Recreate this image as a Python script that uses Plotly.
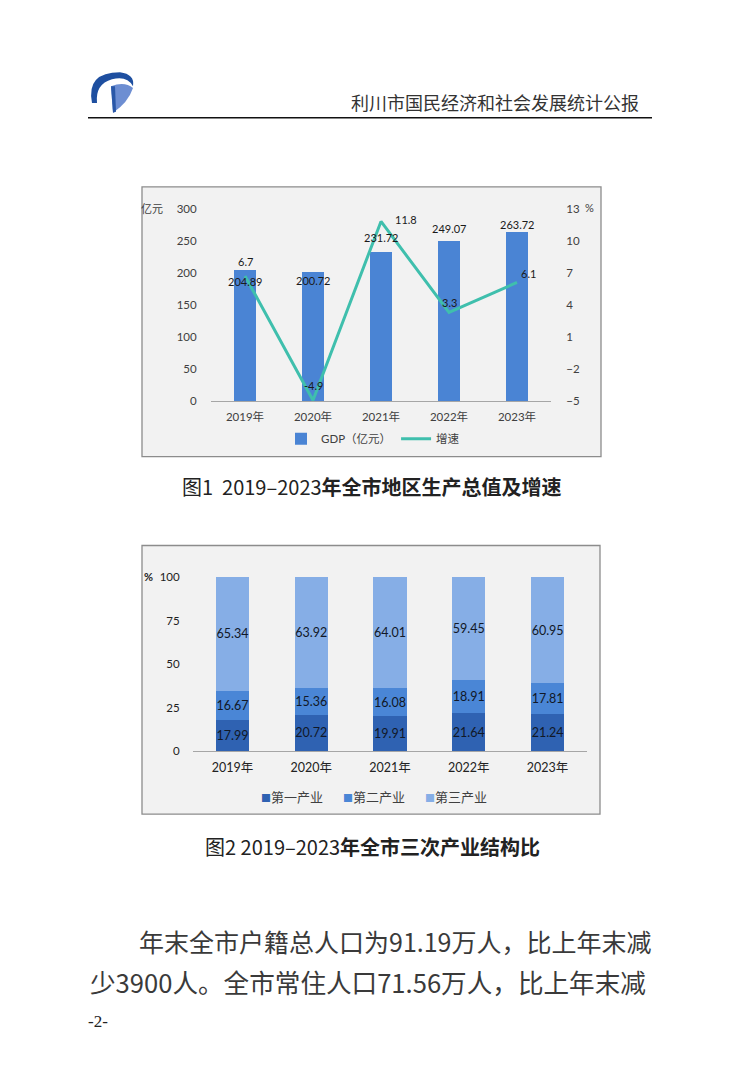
import plotly.graph_objects as go

W, H = 742, 1074
OX, OY = 8, 8  # page body margin of the viewer

# ---------------- data ----------------
years = ["2019年", "2020年", "2021年", "2022年", "2023年"]
gdp = [204.89, 200.72, 231.72, 249.07, 263.72]
growth = [6.7, -4.9, 11.8, 3.3, 6.1]
industries = ["第一产业", "第二产业", "第三产业"]
primary = [17.99, 20.72, 19.91, 21.64, 21.24]
secondary = [16.67, 15.36, 16.08, 18.91, 17.81]
tertiary = [65.34, 63.92, 64.01, 59.45, 60.95]

gdp_ticks = [0, 50, 100, 150, 200, 250, 300]
growth_ticks = [-5, -2, 1, 4, 7, 10, 13]
share_ticks = [0, 25, 50, 75, 100]

# label offsets (pixels) as placed in the original chart
gdp_label_shift = [-12, -8, 15, 13, 7]
growth_label_xshift = [0, 0, 25, 0, 11]
growth_label_yshift = [15, 15, 2, 10, 9]

IND_COLORS = ["#2F62B2", "#4A86D6", "#86AEE6"]


def px(x):
    return (x - OX) / W


def py(y):
    return 1 - (y - OY) / H


NUM_FONT = "Lato, Noto Sans CJK SC, sans-serif"
CJK_FONT = "Noto Sans CJK SC, sans-serif"
TICK_COL = "#404040"

fig = go.Figure()

# ---------- chart 1: GDP bars + growth line ----------
fig.add_trace(go.Bar(
    x=years, y=gdp, name="GDP（亿元）", width=0.31,
    marker=dict(color="#4A84D4", line=dict(width=0)),
    xaxis="x", yaxis="y", legend="legend",
))
fig.add_trace(go.Scatter(
    x=years, y=growth, name="增速", mode="lines",
    line=dict(color="#3FBFAD", width=3),
    xaxis="x", yaxis="y2", legend="legend",
))

# ---------- chart 2: stacked structure ----------
for name, vals, col in zip(industries, [primary, secondary, tertiary], IND_COLORS):
    fig.add_trace(go.Bar(
        x=years, y=vals, name=name, width=0.42, showlegend=False,
        marker=dict(color=col, line=dict(width=0)),
        texttemplate="%{y:.2f}", textposition="inside",
        insidetextanchor="middle", textangle=0, constraintext="none",
        textfont=dict(family=NUM_FONT, size=12.5, color="#111827"),
        xaxis="x2", yaxis="y3",
    ))

annotations = []
# GDP value labels
for xv, yv, sh in zip(years, gdp, gdp_label_shift):
    annotations.append(dict(x=xv, y=yv, xref="x", yref="y", text=f"{yv:.2f}",
                            showarrow=False, yshift=sh, xanchor="center", yanchor="middle",
                            font=dict(family=NUM_FONT, size=11, color="#1a1a1a")))
# growth labels
for xv, yv, xs, ys in zip(years, growth, growth_label_xshift, growth_label_yshift):
    annotations.append(dict(x=xv, y=yv, xref="x", yref="y2", text=f"{yv}",
                            showarrow=False, xshift=xs, yshift=ys, xanchor="center",
                            yanchor="middle",
                            font=dict(family=NUM_FONT, size=11, color="#1a1a1a")))


def note(x, y, text, size, color, family=CJK_FONT, xanchor="center"):
    return dict(x=px(x), y=py(y), xref="paper", yref="paper", text=text, showarrow=False,
                xanchor=xanchor, yanchor="middle",
                font=dict(family=family, size=size, color=color))


# unit labels
annotations += [
    note(152, 203, "亿元", 11, TICK_COL),
    note(589, 203, "%", 11, TICK_COL, NUM_FONT),
    note(148, 576, "<b>%</b>", 11, "#222", NUM_FONT),
]

# legend of chart 2 (small coloured squares + names)
for cx, name, col in zip([292, 374, 456], industries, IND_COLORS):
    annotations.append(note(cx, 799,
                            f"<span style='color:{col};font-size:10px'>■</span>{name}",
                            13, "#404040"))

# page texts
annotations += [
    note(641, 96, "利川市国民经济和社会发展统计公报", 18, "#333", xanchor="right"),
    note(372, 485, "图1  2019–2023<b>年全市地区生产总值及增速</b>", 20, "#222"),
    note(372, 850, "图2 2019–2023<b>年全市三次产业结构比</b>", 20, "#222"),
    note(653, 945, "年末全市户籍总人口为91.19万人，比上年末减", 25, "#3a3a3a", xanchor="right"),
    note(88, 986, "少3900人。全市常住人口71.56万人，比上年末减", 25.6, "#3a3a3a", xanchor="left"),
    note(86, 1027, "-2-", 17, "#222", "Liberation Serif, serif", xanchor="left"),
]


def P(x, y):
    return f"{px(x):.5f},{py(y):.5f}"


LY = -4  # vertical nudge for the logo
shapes = [
    # chart boxes
    dict(type="rect", xref="paper", yref="paper", x0=px(142), x1=px(601), y0=py(455), y1=py(182),
         fillcolor="#F2F2F2", line=dict(color="#8C8C8C", width=1.3), layer="below"),
    dict(type="rect", xref="paper", yref="paper", x0=px(142), x1=px(600), y0=py(817), y1=py(545),
         fillcolor="#F2F2F2", line=dict(color="#8C8C8C", width=1.3), layer="below"),
    # header rule
    dict(type="line", xref="paper", yref="paper", x0=px(88), x1=px(652), y0=py(112), y1=py(112),
         line=dict(color="#111", width=1.5)),
    # logo: left/top arc
    dict(type="path", xref="paper", yref="paper",
         path=f"M {P(120,70+LY)} Q {P(86,70+LY)} {P(92,101+LY)} L {P(97,101+LY)} "
              f"Q {P(95,82+LY)} {P(112,77+LY)} Q {P(127,73+LY)} {P(133,84+LY)} "
              f"Q {P(135,72+LY)} {P(120,70+LY)} Z",
         fillcolor="#1E4FA0", line=dict(width=0)),
    # logo: right blade
    dict(type="path", xref="paper", yref="paper",
         path=f"M {P(111,84+LY)} Q {P(125,79+LY)} {P(133,86+LY)} Q {P(128,101+LY)} {P(113,111+LY)} Z",
         fillcolor="#6D8ED2", line=dict(width=0)),
    dict(type="path", xref="paper", yref="paper",
         path=f"M {P(111,84+LY)} L {P(115,84+LY)} L {P(116,110+LY)} L {P(113,111+LY)} Z",
         fillcolor="#2A58A8", line=dict(width=0)),
]

fig.update_layout(
    width=W, height=H,
    margin=dict(l=0, r=0, t=0, b=0),
    paper_bgcolor="white", plot_bgcolor="rgba(0,0,0,0)",
    barmode="stack", bargap=0.5,
    showlegend=True,
    font=dict(family=NUM_FONT, color=TICK_COL),
    xaxis=dict(domain=[px(211), px(551)], anchor="y", showline=True, linecolor="#A6A6A6",
               linewidth=1, showgrid=False, ticks="outside", ticklen=5, tickcolor="rgba(0,0,0,0)",
               tickfont=dict(family=NUM_FONT, size=11.5, color=TICK_COL), fixedrange=True),
    yaxis=dict(domain=[py(399), py(204)], range=[0, 300], tickvals=gdp_ticks, showgrid=False,
               zeroline=False, showline=False, ticks="outside", ticklen=11,
               tickcolor="rgba(0,0,0,0)", tickfont=dict(family=NUM_FONT, size=11.5, color=TICK_COL)),
    yaxis2=dict(overlaying="y", side="right", range=[-5, 13], tickvals=growth_ticks,
                showgrid=False, zeroline=False, showline=False, ticks="outside", ticklen=12,
                tickcolor="rgba(0,0,0,0)", tickfont=dict(family=NUM_FONT, size=11.5, color=TICK_COL),
                anchor="x"),
    xaxis2=dict(domain=[px(193), px(587)], anchor="y3", showline=True, linecolor="#A6A6A6",
                linewidth=1, showgrid=False, ticks="outside", ticklen=5, tickcolor="rgba(0,0,0,0)",
                tickfont=dict(family=NUM_FONT, size=12.5, color="#222")),
    yaxis3=dict(domain=[py(753), py(577)], range=[0, 100], tickvals=share_ticks, showgrid=False,
                zeroline=False, showline=False, ticks="outside", ticklen=10,
                tickcolor="rgba(0,0,0,0)", tickfont=dict(family=NUM_FONT, size=11.5, color="#222"),
                anchor="x2"),
    legend=dict(orientation="h", x=px(373), y=py(437), xanchor="center", yanchor="middle",
                bgcolor="rgba(0,0,0,0)", font=dict(family=NUM_FONT, size=11.5, color=TICK_COL),
                traceorder="normal", itemwidth=30),
    annotations=annotations,
    shapes=shapes,
)

fig.write_html("out.html")
